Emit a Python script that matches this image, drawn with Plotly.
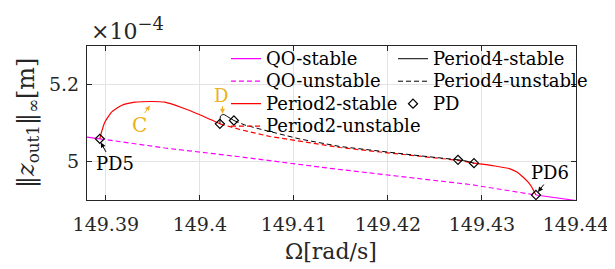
import plotly.graph_objects as go

# ---------------- data (Omega in rad/s, amplitude in 1e-4 m) ----------------
qo_stable_x = [149.38798, 149.38936, None, 149.43574, 149.44]
qo_stable_y = [5.0636, 5.0590, None, 4.9130, 4.8987]

qo_unstable_x = [149.38936, 149.39628, 149.40400, 149.41383, 149.42872, 149.43574]
qo_unstable_y = [5.0590, 5.0351, 5.0130, 4.9823, 4.9403, 4.9130]

p2_stable_x = [149.38936, 149.38954, 149.38989, 149.39061, 149.39167, 149.39309,
               149.39486, 149.39628, 149.39819, 149.40000, 149.40213, None,
               149.42915, 149.43138, 149.43298, 149.43372, 149.43436, 149.43489,
               149.43532, 149.43574]
p2_stable_y = [5.0590, 5.0761, 5.1021, 5.1281, 5.1455, 5.1540,
               5.1558, 5.1540, 5.1390, 5.1213, 5.0979, None,
               4.9956, 4.9883, 4.9810, 4.9727, 4.9597, 4.9468,
               4.9325, 4.9130]

p2_unstable_x = [149.40213, 149.40426, 149.40745, 149.41064, 149.41489, 149.41915,
                 149.42340, 149.42745, 149.42915]
p2_unstable_y = [5.0979, 5.0831, 5.0649, 5.0519, 5.0364, 5.0247,
                 5.0143, 5.0031, 4.9956]

p4_stable_x = [149.40213, 149.40220, 149.40234, 149.40255, 149.40309, 149.40362, None,
               149.42745, 149.42830, 149.42915]
p4_stable_y = [5.0979, 5.1182, 5.1208, 5.1221, 5.1143, 5.1065, None,
               5.0044, 5.0013, 4.9956]

p4_unstable_x = [149.40362, 149.40479, 149.40638, 149.40851, 149.41064, 149.41489,
                 149.41915, 149.42340, 149.42745]
p4_unstable_y = [5.1065, 5.0948, 5.0844, 5.0714, 5.0584, 5.0390,
                 5.0260, 5.0148, 5.0044]

pd_x = [149.38936, 149.40213, 149.40362, 149.42745, 149.42915, 149.43574]
pd_y = [5.0590, 5.0979, 5.1065, 5.0044, 4.9956, 4.9130]

# labels and their arrows
label_text = ["PD5", "PD6", "C", "D"]
label_tx = [149.39096, 149.43723, 149.39362, 149.40223]
label_ty = [4.9948, 4.9714, 5.0961, 5.1714]
arrow_hx = [149.38947, 149.43596, 149.39468, 149.40241]
arrow_hy = [5.0494, 4.9208, 5.1455, 5.1239]
arrow_ax = [6, 7, -6, 0]
arrow_ay = [11, -9, 9, -9]
label_col = ["black", "black", "#EDB120", "#EDB120"]
label_size = [18, 18, 20, 18]

x_ticks = [149.39, 149.40, 149.41, 149.42, 149.43, 149.44]
x_ticktext = ["149.39", "149.4", "149.41", "149.42", "149.43", "149.44"]
y_ticks = [5.0, 5.2]
y_ticktext = ["5", "5.2"]

FONT = "DejaVu Serif, Liberation Serif, serif"
MAG = "#FF00FF"
RED = "#FF0000"
DASH = "5px,3px"
LEG_TXT = "<span style='font-size:18px'>{}</span>"
OFF = 8  # page body margin of the html page

# page-pixel geometry of the reference plot area
PL, PR, PT, PB = 87, 576, 46, 200
W, H = 615 - OFF, 269 - OFF
PW, PH = PR - PL, PB - PT


def px(xp):
    return (xp - PL) / PW


def py(yp):
    return (PB - yp) / PH


fig = go.Figure()
fig.add_trace(go.Scatter(x=qo_stable_x, y=qo_stable_y, mode="lines",
                         name=LEG_TXT.format("QO-stable"),
                         line=dict(color=MAG, width=1.2), legend="legend"))
fig.add_trace(go.Scatter(x=qo_unstable_x, y=qo_unstable_y, mode="lines",
                         name=LEG_TXT.format("QO-unstable"),
                         line=dict(color=MAG, width=1.2, dash=DASH), legend="legend"))
fig.add_trace(go.Scatter(x=p2_stable_x, y=p2_stable_y, mode="lines",
                         name=LEG_TXT.format("Period2-stable"),
                         line=dict(color=RED, width=1.2, shape="spline", smoothing=0.5),
                         legend="legend"))
fig.add_trace(go.Scatter(x=p2_unstable_x, y=p2_unstable_y, mode="lines",
                         name=LEG_TXT.format("Period2-unstable"),
                         line=dict(color=RED, width=1.2, dash=DASH), legend="legend"))
fig.add_trace(go.Scatter(x=p4_stable_x, y=p4_stable_y, mode="lines",
                         name=LEG_TXT.format("Period4-stable"),
                         line=dict(color="black", width=1.0, shape="spline", smoothing=0.5),
                         legend="legend2"))
fig.add_trace(go.Scatter(x=p4_unstable_x, y=p4_unstable_y, mode="lines",
                         name=LEG_TXT.format("Period4-unstable"),
                         line=dict(color="black", width=1.0, dash=DASH), legend="legend2"))
fig.add_trace(go.Scatter(x=pd_x, y=pd_y, mode="markers", name=LEG_TXT.format("PD"),
                         marker=dict(symbol="diamond-open", size=7, color="black",
                                     line=dict(width=1.2, color="black")),
                         legend="legend2"))

for t, tx, ty, hx, hy, ax, ay, c, s in zip(label_text, label_tx, label_ty, arrow_hx, arrow_hy,
                                            arrow_ax, arrow_ay, label_col, label_size):
    fig.add_annotation(x=tx, y=ty, text=t, showarrow=False, xanchor="center", yanchor="middle",
                       font=dict(family=FONT, size=s, color=c))
    fig.add_annotation(x=hx, y=hy, text="", showarrow=True, ax=ax, ay=ay,
                       arrowhead=2, arrowsize=1, arrowwidth=1, arrowcolor=c)

# axis titles and exponent
fig.add_annotation(xref="paper", yref="paper", x=px(27), y=py(123), textangle=-90,
                   xanchor="center", yanchor="middle",
                   text="‖<i>z</i><sub>out1</sub>‖<sub>∞</sub>[m]", showarrow=False,
                   font=dict(family=FONT, size=24, color="#262626"))
fig.add_annotation(xref="paper", yref="paper", x=px(331), y=py(252),
                   xanchor="center", yanchor="middle",
                   text="Ω[rad/s]", showarrow=False,
                   font=dict(family=FONT, size=22, color="#262626"))
fig.add_annotation(xref="paper", yref="paper", x=px(89), y=py(46), xanchor="left",
                   yanchor="bottom",
                   text="×10<sup><span style='font-size:18px'>−4</span></sup>", showarrow=False,
                   font=dict(family=FONT, size=22, color="#262626"))

axis_common = dict(showline=True, linecolor="#262626", linewidth=1, mirror="allticks",
                   ticks="inside", ticklen=5, tickcolor="#262626", automargin=False,
                   showgrid=True, gridcolor="#e3e3e3", gridwidth=1, zeroline=False,
                   tickfont=dict(family=FONT, size=19, color="#262626"))

fig.update_xaxes(range=[149.388, 149.44], tickvals=x_ticks, ticktext=x_ticktext,
                 ticklabelstandoff=7, **axis_common)
fig.update_yaxes(range=[4.9, 5.3], tickvals=y_ticks, ticktext=y_ticktext,
                 ticklabelstandoff=3, **axis_common)

LEG_FONT = dict(family=FONT, size=15, color="black")
fig.update_layout(
    width=W, height=H,
    font=dict(family=FONT),
    margin=dict(l=PL - OFF, r=W - (PR - OFF), t=PT - OFF, b=H - (PB - OFF), autoexpand=False),
    plot_bgcolor="white", paper_bgcolor="white",
    legend=dict(x=px(226), y=1.023, xanchor="left", yanchor="top",
                bgcolor="rgba(0,0,0,0)", font=LEG_FONT, tracegroupgap=0, itemwidth=30),
    legend2=dict(x=px(393), y=1.023, xanchor="left", yanchor="top",
                 bgcolor="rgba(0,0,0,0)", font=LEG_FONT, tracegroupgap=0, itemwidth=30),
    showlegend=True,
)

fig.write_html("out.html")
